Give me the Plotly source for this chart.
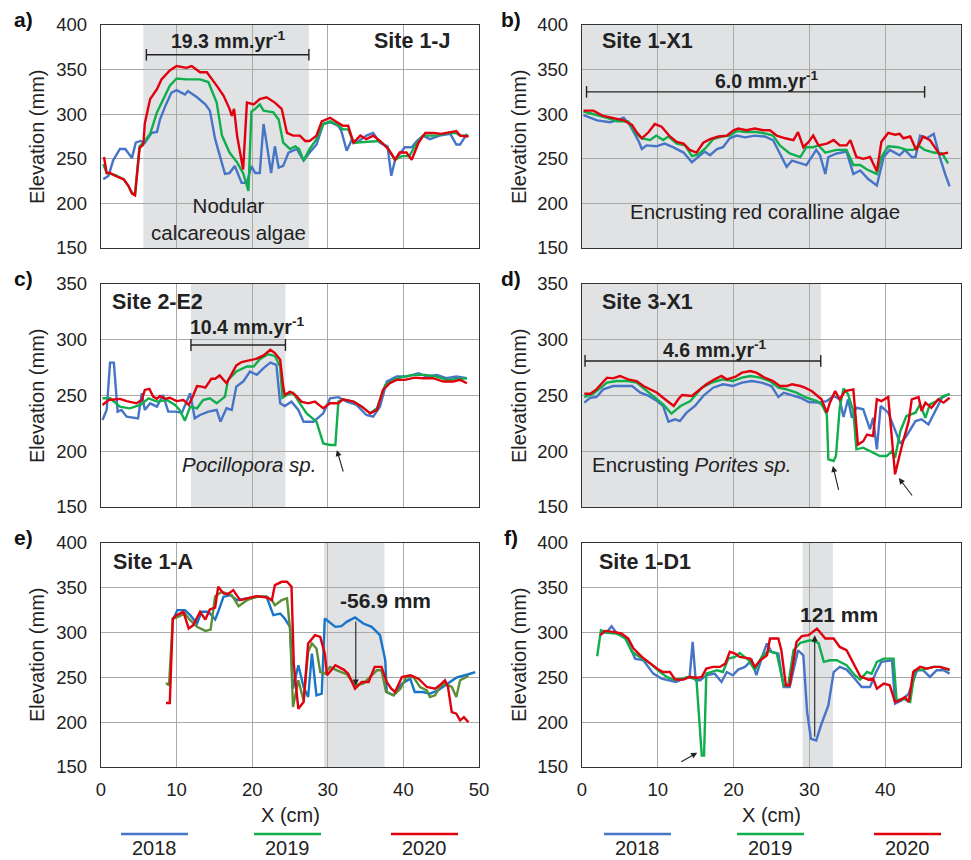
import plotly.graph_objects as go
from plotly.subplots import make_subplots

# ---------------- data ----------------
# panel a) Site 1-J
a_2020_x = [0.4,0.75,1.2,1.85,3,3.6,4.1,4.5,5.1,5.6,5.8,6.5,7.4,8,9.1,10,11.3,12,13.1,14,15.3,16.2,17,17.3,17.6,18,18.8,19.3,20.2,21,21.9,23,23.9,24.6,25.4,26.3,27,27.6,28.5,29.2,30.3,31.2,32,32.7,33.4,34.3,35.1,36,36.9,38,38.9,39.5,40.4,41.1,42,42.9,44,45,46.2,47,47.5,48.6]
a_2020_y = [252,234,234,231,227,220,211,209,262,266,290,317,328,339,349,354,352,354,347,347,332,321,306,298,306,276,238,313,311,317,319,313,306,279,276,276,270,270,276,292,296,291,287,287,268,276,272,276,270,261,249,257,257,249,268,279,279,278,280,281,276,275]
a_2019_x = [0.3,0.75,1.85,3,3.6,4.1,4.5,5.1,5.8,6.5,7.4,8.2,9.1,10,11.3,13.1,14.2,15.3,16,17,18,18.8,19.5,19.9,20.4,21,21.5,22.8,23.5,24.1,25,25.7,26.2,26.8,27.6,28.5,29.4,30.3,31.2,32,32.7,33.4,34.7,36,36.9,38,38.9,39.8,40.8,41.5,42.6,44.3,46,47,47.5,48.6]
a_2019_y = [244,234,232,227,220,212,210,264,270,278,302,317,332,340,339,339,336,313,276,257,246,234,214,303,306,311,304,302,294,268,261,264,261,248,261,272,289,292,289,283,283,268,269,270,270,261,249,253,253,264,276,276,279,279,276,276]
a_2018_x = [0.3,1,1.6,2.5,3.2,4.1,4.6,5.2,5.8,6.7,7.4,7.8,8.5,9.3,10,11.1,11.5,12.7,13.8,14.4,15.1,15.7,16.4,17,17.7,18.6,19.3,19.9,20.4,21,21.5,21.9,22.5,23,23.5,24.1,24.8,25.9,26.8,27.6,28.5,29.4,30.3,31.4,31.8,32.5,33.2,33.8,35.1,36,36.9,37.9,38.4,38.9,40.2,41.1,41.8,42.6,43.5,44.8,46.2,47,47.5,48.4]
a_2018_y = [227,231,248,261,261,251,268,270,268,279,280,294,309,324,327,322,326,319,311,304,272,253,233,234,242,223,223,242,234,234,289,268,234,264,240,242,257,261,248,257,266,289,291,287,281,259,272,268,276,279,268,264,231,249,263,263,270,276,272,276,278,266,266,278]

# panel b) Site 1-X1
b_2020_x = [0.2,1.5,2.8,4.1,5.5,6.6,7.2,7.9,8.8,9.6,10.5,11.6,12.5,13.4,14.2,15.1,16,16.9,18,19.1,20,20.6,21.7,22.8,23.9,24.8,25.7,26.8,27.9,28.5,29.2,29.9,30.5,31.2,32.3,33.2,34,34.9,35.4,36.2,37.1,38,38.9,39.5,40.4,41.3,41.9,42.4,43.3,44.1,45,45.9,47.2,48.3]
b_2020_y = [304,304,298,296,293,288,280,273,280,289,286,275,269,267,260,257,268,272,275,276,282,284,282,284,282,282,276,273,271,280,263,269,276,265,267,271,265,265,271,252,250,252,236,269,279,277,278,273,275,260,275,271,255,257]
b_2019_x = [0.2,2,3.3,4.6,6.1,7.2,7.9,9,9.8,10.7,11.4,12.5,13.6,14.5,15.3,16.2,17.3,18.4,19.5,20.4,21.7,23,24.4,25.2,26.1,27.4,28.8,29.6,30.5,31.2,32.1,33.6,34.9,35.8,36.7,37.6,38.9,39.5,40.4,41.7,42.8,43.7,44.4,45.2,46.4,47.5,48.3]
b_2019_y = [303,299,296,292,292,278,273,271,276,271,275,267,265,253,255,261,272,275,276,281,280,280,278,276,265,256,252,263,263,265,257,260,260,243,243,238,233,252,264,263,260,260,265,260,257,256,245]
b_2018_x = [0.2,2,3.7,4.6,5.5,6.3,7.4,7.9,8.5,9.8,10.9,12,13.4,14.5,15.3,16.2,16.9,17.8,18.6,19.5,20.4,21.5,22.8,24.1,25.2,26.3,27,27.7,28.8,29.6,30.9,31.4,32.1,32.5,33.6,34.9,35.8,36.7,37.8,38.9,39.8,40.6,41.9,42.6,43.5,44,44.6,45.5,46.4,47.2,47.9,48.5]
b_2018_y = [299,293,291,293,296,288,271,261,265,264,267,263,257,246,252,258,254,261,263,273,276,274,276,275,271,252,241,248,245,243,260,254,233,252,256,258,233,237,227,220,252,260,254,260,252,252,276,273,278,252,233,219]

# panel c) Site 2-E2
c_2020_x = [0.2,1,2.5,3.4,4.7,5.4,5.8,6.4,6.9,7.4,7.8,8.5,9.1,10,10.9,11.6,12.2,12.7,13.3,13.8,14.6,15.1,15.7,16.6,17.1,17.9,18.6,19.7,20.6,21.5,22.4,23,23.7,24.1,24.3,25,25.7,26.5,27.4,28.3,29.4,30.3,31.4,32,33.4,34.5,35.6,36.5,37.3,38.2,39.1,40.2,41.5,42.6,43.9,45.3,46.6,47.5,48.4]
c_2020_y = [241.5,246,247,245,243,246,255,256,249,247,249.5,247,248,245,246,241.5,250,258.5,258,257,265,265,268,261,267,277,280,282,283,286,291,288,282,258,250.5,253.5,250.5,244.5,243,244.5,238.5,243,243,246.5,244.5,240,234,237,255,261,264,264,266,265.5,265.5,262.5,262.5,264,261]
c_2019_x = [0.2,1.2,2.5,3.8,5.2,6.3,7.4,8.7,9.8,10.4,11.1,11.8,12.7,13.5,14.4,15.3,16.4,16.8,17.9,19.3,20.2,21,22.1,23,23.7,24,24.6,25.4,26.3,27.2,28.5,29.4,30.3,31,31.4,32,33.4,34.5,35.6,36.5,37.6,38.7,40,41.5,42.9,44.4,45.7,47,48.4]
c_2019_y = [247.5,247.5,240,238.5,241.5,247.5,244.5,246,241.5,237,227.5,240,238.5,246,247.5,243,249,264,271.5,276,276,282.5,287,285.5,276,248,250.5,252.5,243,234,226.5,207,205.6,205.6,244.5,246.5,244.5,240,234,238.5,259.5,264,267,268.5,268.5,267,264,264.5,265.5]
c_2018_x = [0.2,0.75,1.2,1.7,2.2,2.7,3.4,4.9,5.4,5.8,6.5,7.4,8.2,8.9,9.8,10.7,11.8,12.4,13.1,14.2,15.3,15.8,16.6,17.3,17.9,18.8,19.7,20.6,21.5,22.4,23.2,23.7,24.3,25.2,26.1,26.8,28.1,29.4,30.3,31.4,32.5,33.8,35.1,36,36.9,37.8,39.1,40.4,42,43.1,44.4,45.7,47,48.4]
c_2018_y = [228,237,279.5,279.5,235.5,237,231,229.5,252,237,243,240,250.5,235.5,235.5,234.5,252,229.5,232.5,235.5,237,226.5,238.5,237,258,262.5,271.5,268.5,274.5,279.5,277.5,243,240.5,244.5,237,226.5,226.5,234,247.5,248.5,244.5,241.5,232.5,231,240,262.5,267,267,270,267,268.5,265.5,267,265.5]

# panel d) Site 3-X1
d_2020_x = [0.3,1.1,1.9,3.3,4.1,5,6.1,7.2,8.1,9,9.9,10.7,11.6,12.1,12.7,13.2,14.5,15.6,16.4,17.5,18.4,19.1,20.2,21.1,22.2,23,24.1,25.2,26.1,27,27.7,28.8,29.4,30.3,31,31.6,32.3,32.7,33.4,34,34.7,35.8,36.4,37.1,37.6,38.4,38.9,39.5,40.4,41.3,42.2,43.1,43.5,44.4,44.8,45.3,46.1,47,47.7,48.5]
d_2020_y = [251.6,251.6,255.5,266,265.4,267.5,264.5,263,258.5,255.5,252.5,248,243.6,240.6,246.6,250.4,249.6,255.5,260,264.5,267.5,264.5,266.6,270.5,272,270.5,266,263,258.5,258.5,260,258.5,257,254,249.6,246.6,234.6,243.6,254,246.6,254,255.5,206,209,215,213.7,246.6,245,248.6,179.3,204.7,227,246.6,248.6,236,243.6,239,246.6,243.6,248]
d_2019_x = [0.3,1.5,3.3,4.6,6.1,7.2,8.3,9.4,10.7,11.8,13,14.3,15.8,17.1,18.6,19.9,21.1,22.2,23.5,24.8,25.9,27,28.3,29.6,31,31.6,32.3,32.5,33.2,33.5,34,34.5,35.1,35.8,36.2,37.1,38,39.3,40.2,40.9,41.3,42,42.8,44,44.6,45.3,45.9,46.8,47.7,48.5]
d_2019_y = [248.6,251.6,261.5,263,263,261.5,255.5,249.6,242,233.7,240.6,245,257,261.5,264.5,263,266,267.5,266,263,257,255.5,252.5,248,245,242,233,192.8,191.3,195.7,239,256.4,251,236,201.7,203.2,200.2,195.7,195.7,200.2,194.2,218,231.6,234.6,242,230,242,245,249.6,251]
d_2018_x = [0.3,1.1,1.9,2.8,4.1,5.5,6.6,7.7,8.8,9.9,10.7,11.4,12.3,12.9,13.8,14.9,16,17.3,18.6,19.9,21.1,22.4,23.7,25,25.9,26.6,27.4,28.8,29.9,31.2,32.3,33.2,34,34.5,35.1,35.6,36.2,37.1,38,38.4,38.9,39.4,40.4,41.3,42,42.8,44,44.8,45.7,46.6,47.5,48.5]
d_2018_y = [243.6,248,248.6,255.5,258.5,258.5,258.5,252.5,249.6,245,240.6,226.5,228.6,227,234.6,240.6,249.6,257,260,258.5,261.5,263,261.5,258.5,248.6,252.5,251,248,244.2,243.6,245,249.6,246.6,230.7,246.6,230,239,237.6,219.7,230,201.7,240.6,234.6,218.2,206.8,213.7,227,228.6,224,236,248,251.6]

# panel e) Site 1-A
e_2020_x = [8.6,9.1,9.5,10,10.9,11.6,12.2,13.1,13.8,14.4,15.1,15.5,16.2,16.8,17.5,18.4,19.3,20.6,21.9,22.6,23,23.9,24.6,25.2,25.5,26.1,26.8,27.4,28.3,29,29.6,29.9,31,32.1,32.7,33.6,34.5,35.4,36.2,37.1,37.8,38.4,38.9,39.8,40.9,42,43.1,44.2,44.8,45.5,45.9,46.4,47,47.5,48,48.6]
e_2020_y = [221.4,221.4,315.7,319.5,323.2,304.5,308.3,323.2,314.6,325.8,328,351.2,343.7,343,347.4,336.2,338.1,340.7,339.2,336.2,353,356.7,356.7,351.2,265.4,215,222.5,287.8,297.1,295.2,276.6,252.4,263.5,258.7,254.2,237.4,244.9,244.9,261.7,261.7,244.9,237.4,233.7,250.5,252.4,248.6,239.3,237.4,241.2,246.8,239.3,211.3,209.5,202,205.7,200.1]
e_2019_x = [8.6,9,9.5,10.2,11.1,11.8,12.7,13.8,14.5,15.1,16,16.6,17.3,18.2,19.3,20.6,21.9,22.6,23,23.9,24.6,25,25.4,26.1,26.8,27.4,27.9,28.5,29,29.6,30.3,31.2,32.5,33.6,34.7,35.6,36.5,37.1,37.7,38.7,39.6,40.4,41.3,42.2,43.1,43.5,44.2,44.8,45.5,46.4,47,47.5,48.6]
e_2019_y = [243.8,241.2,315.7,317.6,321.3,313.9,306.4,301.9,303.4,340.7,345.6,343.7,341.8,329.5,336.2,340,340,336.2,330.6,336.2,338.1,304.5,217,246.8,224.4,278.5,287.8,282.2,256,254.2,261.7,257.9,253.5,241.2,243,250.5,257.9,257.9,233.7,230,237.4,250.5,250.5,239.3,235.6,228.1,230,239.3,243,239.3,228.1,246.8,251.6]
e_2018_x = [9.5,10.1,11.1,11.8,12.7,13.3,14.2,15.1,15.5,16.2,17.1,18,19.3,20.6,21.9,22.8,23.7,24.3,25,25.4,26.1,26.8,27.4,27.9,28.5,29.2,29.6,31,31.8,32.5,33.6,34.7,35.8,36.9,37.6,37.8,38.7,39.8,40.9,41.5,42.6,43.5,44.6,45.5,46.4,47,48.6,49.5]
e_2018_y = [313.9,325.1,325.1,319.5,310.1,323.2,323.2,314.6,323.2,340,341.8,336.2,338.1,340,340,319.5,321.3,315.7,306.4,237.4,263.5,239.3,228.1,276.6,230,231.8,315.7,306.4,307.2,312,316.9,310.1,306.4,297.1,269.1,233.7,230,243,248.6,233.7,233.7,231.8,235.6,241.2,246.8,249.7,253.5,256]

# panel f) Site 1-D1
f_2020_x = [2.4,3,4.1,5.2,6.1,6.8,7.9,9,10.1,10.7,11.6,12.3,13.4,14.2,15.3,15.8,16.4,17.3,18.2,18.9,19.5,20.2,20.8,22.2,22.8,23.5,24.4,24.8,25.9,26.3,26.9,27.4,28.3,29,29.9,31,32.1,33.2,34,34.9,35.8,36.7,37.8,38.4,38.9,39.8,40.6,41.3,41.9,42.6,43.1,43.7,44.6,45.5,46.4,47.2,48.5]
f_2020_y = [297.1,301.9,300.8,299,293.4,282.2,272.9,265.4,258.7,256,256,247.5,247.5,250.5,249.7,250.5,259.8,261.7,261.7,265.4,278.5,276.6,272.9,271,261.7,269.1,274.7,293.4,293.4,280.3,241.2,241.2,289.6,296,297.1,304.5,293.4,293.4,284,280.3,265.4,251.2,247.5,248.6,237.4,243,241.2,222.5,224.4,228.1,222.5,256,261.7,259.8,261.7,261.7,258.7]
f_2019_x = [2,2.5,3.3,4.6,5.7,6.6,7.6,9,10.3,11.2,12,13.2,14,15.1,15.8,16.1,16.4,17.8,18.6,19.3,20.2,20.8,22,22.8,23.7,24.6,25.7,26.6,27.2,27.9,28.8,30.1,31.2,31.9,32.7,33.6,34.9,36,36.7,37.6,38.2,38.9,39.8,41.1,41.5,42.4,43.3,43.9,45,46.4,47.2,48.5]
f_2019_y = [273.6,302.7,299.7,299,293.4,278.5,272.9,265.4,256,250.5,247.5,248.6,250.5,247.5,162.9,162.9,254.2,258,256,271,272.9,277.3,269.1,258,272.9,279.6,276.6,241.2,241.2,280.3,288.5,291.5,288.5,267.3,269.1,269.1,263.5,252.4,247.5,256,254.2,267.3,271,271,224.4,226.2,222.5,258,258.7,261.7,261.7,258]
f_2018_x = [2.5,3.3,3.9,4.6,5.9,7,8.1,9.4,10.5,11.6,12.4,13.4,14.2,14.6,15,15.6,16.4,17.5,18.4,19.1,19.9,20.6,21.5,22.4,23,23.9,24.4,25,25.9,26.6,27.4,28.5,29.2,29.7,30.2,30.9,31.6,32.5,33.2,34,34.9,35.8,36.9,38,38.7,39.5,40.9,41.3,42.2,43.1,44.2,45,45.9,46.8,47.7,48.5]
f_2018_y = [299,300.8,307.2,299,293.4,271,269.1,254.2,248.6,246.8,244.9,248.6,250.5,289.6,246.8,246.8,252.4,254.2,244.9,256,252.4,258.7,261.7,269.1,252.4,276.6,287.8,278.5,276.6,239.3,239.3,280.3,274.7,211.3,181.5,179.6,198.3,218.8,256,261.7,258.7,250.5,239.3,239.3,254.2,267.3,269.1,220.7,224.4,231.8,258,258,250.5,258,258,254.2]

years = ["2018", "2019", "2020"]
x_ticks = [0, 10, 20, 30, 40, 50]
y_ticks_tall = [150, 200, 250, 300, 350, 400]
y_ticks_short = [150, 200, 250, 300, 350]

# annotation values
shade_spans = {"a": (5.6, 27.5), "b": (0, 50), "c": (11.9, 24.4), "d": (0, 31.5), "e": (29.5, 37.5), "f": (29.1, 33.1)}
rate_labels = {"a": "19.3", "b": "6.0", "c": "10.4", "d": "4.6"}
rate_spans = {"a": (6.0, 27.5, 366.6), "b": (0.6, 45.2, 325), "c": (11.9, 24.4, 295.3), "d": (0.4, 31.5, 281)}
rate_text_pos = {"a": (16.8, 383), "b": (24.4, 338), "c": (19.3, 312), "d": (17.5, 292)}
site_names = {"a": "Site 1-J", "b": "Site 1-X1", "c": "Site 2-E2", "d": "Site 3-X1", "e": "Site 1-A", "f": "Site 1-D1"}
site_pos = {"a": (41.2, 382), "b": (8.6, 382), "c": (7.5, 334), "d": (8.6, 334), "e": (6.9, 379), "f": (8.3, 379)}

# ---------------- figure ----------------
FONT = "Liberation Sans, Arial, Helvetica, sans-serif"
W, H = 971, 860
BLUE, GREEN, RED = "#4674c6", "#10ae4c", "#e0000e"
E_BLUE, E_GREEN = "#1776c9", "#5b8e36"
TXT = "#222222"

fig = make_subplots(rows=3, cols=2)

panels = [
    ("a", 1, 1, a_2018_x, a_2018_y, a_2019_x, a_2019_y, a_2020_x, a_2020_y),
    ("b", 1, 2, b_2018_x, b_2018_y, b_2019_x, b_2019_y, b_2020_x, b_2020_y),
    ("c", 2, 1, c_2018_x, c_2018_y, c_2019_x, c_2019_y, c_2020_x, c_2020_y),
    ("d", 2, 2, d_2018_x, d_2018_y, d_2019_x, d_2019_y, d_2020_x, d_2020_y),
    ("e", 3, 1, e_2018_x, e_2018_y, e_2019_x, e_2019_y, e_2020_x, e_2020_y),
    ("f", 3, 2, f_2018_x, f_2018_y, f_2019_x, f_2019_y, f_2020_x, f_2020_y),
]

def px_x(p):
    return p / W

def px_y(p):
    return 1 - p / H

def note(**kw):
    kw.setdefault("xanchor", "center")
    kw.setdefault("yanchor", "middle")
    kw.setdefault("showarrow", False)
    fig.add_annotation(**kw)

col_dom = {1: [px_x(101), px_x(479)], 2: [px_x(582), px_x(961)]}
row_dom = {1: [px_y(248), px_y(25)], 2: [px_y(507), px_y(284)], 3: [px_y(767), px_y(543)]}

for idx, (key, r, c, x18, y18, x19, y19, x20, y20) in enumerate(panels):
    cb, cg = (E_BLUE, E_GREEN) if key == "e" else (BLUE, GREEN)
    for xs, ys, col, nm in ((x18, y18, cb, "2018"), (x19, y19, cg, "2019"), (x20, y20, RED, "2020")):
        fig.add_trace(go.Scatter(x=xs, y=ys, mode="lines", name=nm, showlegend=False,
                                 line=dict(color=col, width=2.4)), row=r, col=c)
    n = "" if idx == 0 else str(idx + 1)
    xa, ya = "x" + n, "y" + n
    # shaded band
    s0, s1 = shade_spans[key]
    fig.add_shape(type="rect", xref=xa, yref=ya + " domain", x0=s0, x1=s1, y0=0, y1=1,
                  fillcolor="#e1e2e4", line=dict(width=0), layer="below")
    # rate bracket
    if key in rate_spans:
        b0, b1, by = rate_spans[key]
        cap = 6.5 if r != 2 else 5.3
        for sx0, sy0, sx1, sy1 in ((b0, by, b1, by), (b0, by - cap, b0, by + cap), (b1, by - cap, b1, by + cap)):
            fig.add_shape(type="line", xref=xa, yref=ya, x0=sx0, y0=sy0, x1=sx1, y1=sy1,
                          line=dict(color=TXT, width=1.4))
        tx, ty = rate_text_pos[key]
        note(xref=xa, yref=ya, x=tx, y=ty,
             text="<b>" + rate_labels[key] + " mm.yr<sup>-1</sup></b>",
             font=dict(size=19.5, color=TXT, family=FONT))
    sx, sy = site_pos[key]
    note(xref=xa, yref=ya, x=sx, y=sy, text="<b>" + site_names[key] + "</b>",
         font=dict(size=21.5, color=TXT, family=FONT))
    # axes
    ticks_y = y_ticks_short if r == 2 else y_ticks_tall
    fig.update_xaxes(domain=col_dom[c], range=[0, 50], tickvals=x_ticks, showgrid=True,
                     gridcolor="#a9a9a9", gridwidth=1, showline=True, linecolor="#333333",
                     linewidth=1.3, mirror=True, zeroline=False, ticks="",
                     showticklabels=(r == 3), ticklabelstandoff=6,
                     tickfont=dict(size=18.5, color=TXT, family=FONT), row=r, col=c)
    fig.update_yaxes(domain=row_dom[r], range=[ticks_y[0], ticks_y[-1]], tickvals=ticks_y,
                     showgrid=True, gridcolor="#a9a9a9", gridwidth=1, showline=True,
                     linecolor="#333333", linewidth=1.3, mirror=True, zeroline=False, ticks="",
                     ticklabelstandoff=9, tickfont=dict(size=18.5, color=TXT, family=FONT),
                     row=r, col=c)

# panel-specific texts
txt_font = dict(size=20.5, color=TXT, family=FONT)
note(xref="x", yref="y", x=16.8, y=182, text="Nodular<br>calcareous algae", font=txt_font)
note(xref="x2", yref="y2", x=24.2, y=191, text="Encrusting red coralline algae", font=txt_font)
note(xref="x3", yref="y3", x=19.6, y=188.5, text="<i>Pocillopora sp.</i>", font=txt_font)
note(xref="x4", yref="y4", x=14.5, y=188, text="Encrusting <i>Porites sp.</i>", font=txt_font)
note(xref="x5", yref="y5", x=37.6, y=336, text="<b>-56.9 mm</b>",
     font=dict(size=21, color=TXT, family=FONT))
note(xref="x6", yref="y6", x=33.9, y=320.5, text="<b>121 mm</b>",
     font=dict(size=21, color=TXT, family=FONT))

# arrows (tip, tail)
arrows = [
    ("x3", "y3", 31.2, 201, 32.1, 180.5),
    ("x4", "y4", 33.1, 186.8, 33.9, 164),
    ("x4", "y4", 41.8, 176, 43.7, 159),
    ("x5", "y5", 33.7, 241, 33.7, 314),
    ("x6", "y6", 30.7, 297, 30.7, 182),
    ("x6", "y6", 15.2, 166, 12.9, 155),
]
for xa, ya, x1, y1, x0, y0 in arrows:
    fig.add_annotation(xref=xa, yref=ya, axref=xa, ayref=ya, x=x1, y=y1, ax=x0, ay=y0,
                       showarrow=True, arrowhead=2, arrowsize=1.1, arrowwidth=1.1,
                       arrowcolor=TXT, text="")

# panel letters
for lab, xp, yp in (("a)", 23, 19), ("b)", 511, 19), ("c)", 23, 278), ("d)", 511, 278), ("e)", 23, 537), ("f)", 511, 537)):
    note(xref="paper", yref="paper", x=px_x(xp), y=px_y(yp), text="<b>" + lab + "</b>",
         font=dict(size=21, color="#111111", family=FONT))

# axis titles
for xp in (37, 519):
    for yc in (137, 396, 655):
        note(xref="paper", yref="paper", x=px_x(xp), y=px_y(yc), textangle=-90,
             text="Elevation (mm)", font=dict(size=20, color=TXT, family=FONT))
for xc in (290, 771.5):
    note(xref="paper", yref="paper", x=px_x(xc), y=px_y(815), text="X (cm)",
         font=dict(size=20, color=TXT, family=FONT))

# legend (line samples with year labels underneath)
leg_cols = [BLUE, GREEN, RED]
for starts in ((121, 254, 391), (604, 737, 874)):
    for s, col, yr in zip(starts, leg_cols, years):
        fig.add_shape(type="line", xref="paper", yref="paper", x0=px_x(s), x1=px_x(s + 67),
                      y0=px_y(834), y1=px_y(834), line=dict(color=col, width=2.5))
        note(xref="paper", yref="paper", x=px_x(s + 33.5), y=px_y(847.5), text=yr,
             font=dict(size=20, color=TXT, family=FONT))

fig.update_layout(width=W, height=H, margin=dict(l=0, r=0, t=0, b=0, autoexpand=False),
                  paper_bgcolor="white", plot_bgcolor="white", showlegend=False,
                  font=dict(family=FONT))

fig.write_html("out.html")
